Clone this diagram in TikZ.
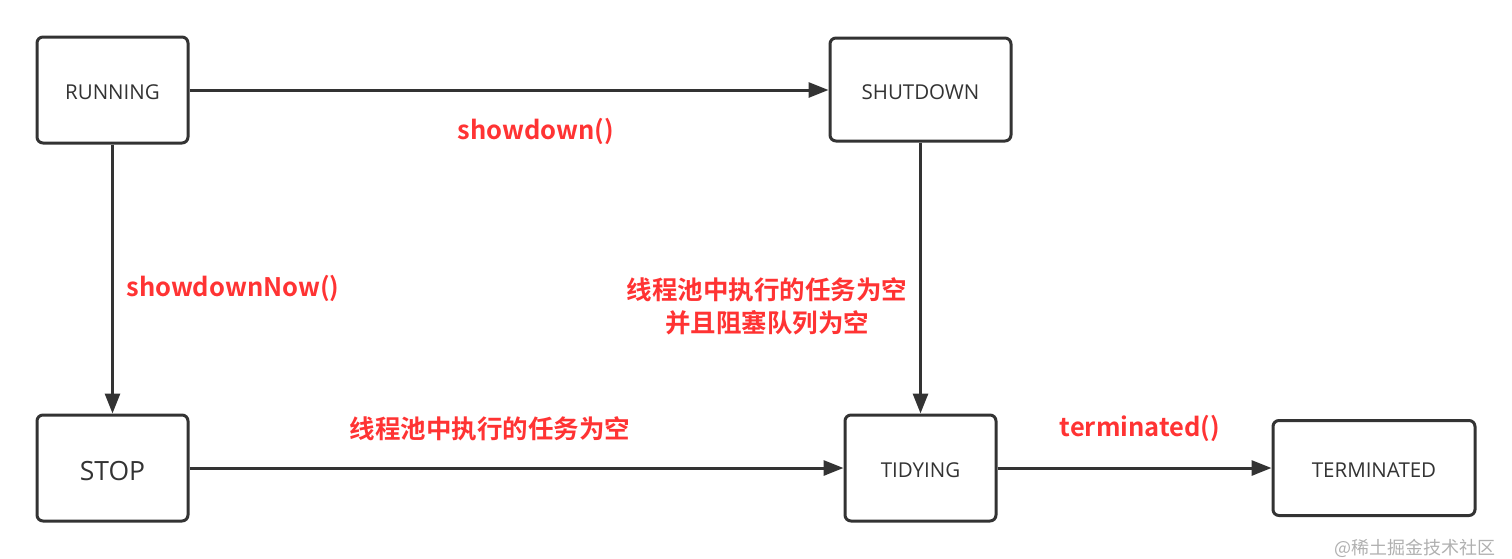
\documentclass[tikz,border=0pt]{standalone}
\usepackage{fontspec}
\setmainfont{Open Sans}
\newfontfamily\cjkbold{Noto Sans CJK SC}[BoldFont={Noto Sans CJK SC Bold}]
\newfontfamily\cjk{Noto Sans CJK SC}
\usetikzlibrary{arrows.meta}
\definecolor{linec}{HTML}{333333}
\definecolor{redc}{HTML}{FF3333}
\definecolor{wmc}{HTML}{B0B0B0}
\tikzset{
  state/.style={draw=linec, line width=3pt, rounded corners=6pt, fill=white, inner sep=0pt, text=linec, font=\fontsize{20.5}{24}\selectfont},
  conn/.style={draw=linec, line width=3pt, -{Triangle[length=20pt,width=15pt]}},
  lab/.style={text=redc, font=\cjkbold\bfseries\fontsize{25.5}{33}\selectfont, align=center, inner sep=0pt}
}
\begin{document}
\begin{tikzpicture}[x=1pt,y=-1pt]
\useasboundingbox (0,0) rectangle (1512,558);
\node[state, minimum width=151pt, minimum height=106pt] (run) at (112.5,90) {};
\node[state, minimum width=181pt, minimum height=103pt] (shut) at (920.5,89.5) {};
\node[state, minimum width=151pt, minimum height=106pt] (stop) at (112.5,468) {};
\node[state, minimum width=151pt, minimum height=106pt] (tidy) at (920.5,468) {};
\node[state, minimum width=202pt, minimum height=95pt] (term) at (1374,468) {};
\node[text=linec, font=\fontsize{20.5}{24}\selectfont, inner sep=0pt] (trun) at (112.5,92.5) {RUNNING};
\node[text=linec, font=\fontsize{20.5}{24}\selectfont, inner sep=0pt] (tshut) at (920.5,92.5) {SHUTDOWN};
\node[text=linec, font=\fontsize{26.5}{30}\selectfont, inner sep=0pt] (tstop) at (112.5,471) {STOP};
\node[text=linec, font=\fontsize{20.5}{24}\selectfont, inner sep=0pt] (ttidy) at (920.5,470.5) {TIDYING};
\node[text=linec, font=\fontsize{20.5}{24}\selectfont, inner sep=0pt] (tterm) at (1374,470.5) {TERMINATED};
\draw[conn] (run.east|-0,90) -- (shut.west|-0,90);
\draw[conn] (run.south) -- (stop.north);
\draw[conn] (shut.south) -- (tidy.north);
\draw[conn] (stop.east) -- (tidy.west);
\draw[conn] (tidy.east) -- (term.west);
\node[lab] (l1) at (536,131) {showdown()};
\node[lab] (l2) at (233,288) {showdownNow()};
\node[lab] (l3) at (767,306) {线程池中执行的任务为空\\并且阻塞队列为空};
\node[lab] (l4) at (490,429) {线程池中执行的任务为空};
\node[lab] (l5) at (1140,428) {terminated()};
\node[text=wmc, font=\cjk\fontsize{18}{20}\selectfont, inner sep=0pt] (wm) at (1415,548) {@稀土掘金技术社区};
\end{tikzpicture}
\end{document}
